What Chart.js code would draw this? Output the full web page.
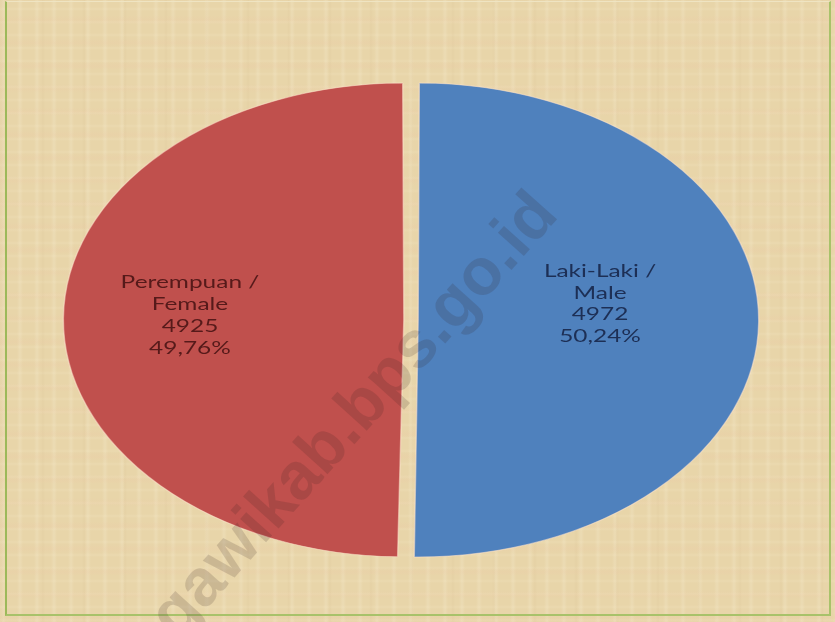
<!DOCTYPE html>
<html>
<head>
<meta charset="utf-8">
<script src="https://cdn.jsdelivr.net/npm/chart.js@4.4.1/dist/chart.umd.min.js"></script>
<style>
  html, body { margin: 0; padding: 0; }
  body { width: 835px; height: 622px; overflow: hidden; }
  .frame {
    position: relative;
    width: 835px;
    height: 622px;
    background-color: #e8d5a9;
    background-image:
      repeating-linear-gradient(0deg, rgba(238,196,164,0) 0px, rgba(238,196,164,0.16) 4px, rgba(238,196,164,0) 9px, rgba(238,196,164,0) 23px),
      repeating-linear-gradient(90deg, rgba(255,248,228,0) 0px, rgba(255,248,228,0.18) 3px, rgba(255,248,228,0) 6px, rgba(255,248,228,0) 17px),
      repeating-linear-gradient(90deg, rgba(190,160,112,0) 0px, rgba(190,160,112,0.07) 2px, rgba(190,160,112,0) 4px, rgba(190,160,112,0) 41px),
      repeating-linear-gradient(0deg, rgba(255,246,220,0) 0px, rgba(255,246,220,0.12) 2px, rgba(255,246,220,0) 4px, rgba(255,246,220,0) 13px);
  }
  .edge {
    position: absolute;
    left: 5px; top: 1px;
    width: 822px; height: 612px;
    border-left: 2px solid #9cb95a;
    border-right: 2px solid #a8c26a;
    border-bottom: 2px solid #a8c26a;
    border-top: 1px solid #efe4c2;
  }
  canvas { position: absolute; left: 0; top: 0; }
</style>
</head>
<body>
<div class="frame">
  <div class="edge"></div>
  <canvas id="pieChart" width="835" height="622"></canvas>
</div>
<script>
// Data
const categories = ['Laki-Laki / Male', 'Perempuan / Female'];
const labelLines = [['Laki-Laki /', 'Male'], ['Perempuan /', 'Female']];
const counts = [4972, 4925];
const sliceColors = ['#4f81bd', '#c0504d'];
const textColors = ['#1d2f55', '#561a1a'];
// where each label block sits, in units of the radius from the pie centre
const labelSpots = [[0.567, -0.069], [-0.663, -0.019]];

// the source picture is a round pie stretched sideways
const stretchX = 1.437;
const watermark = 'ngawikab.bps.go.id';

const total = counts.reduce((a, b) => a + b, 0);
const percentText = v => (v / total * 100).toFixed(2).replace('.', ',') + '%';

const ellipsePie = {
    id: 'ellipsePie',
    beforeDatasetsDraw(chart) {
        const arc = chart.getDatasetMeta(0).data[0];
        const ctx = chart.ctx;
        ctx.save();
        ctx.translate(arc.x, arc.y);
        ctx.scale(stretchX, 1);
        ctx.translate(-arc.x, -arc.y);
    },
    afterDatasetsDraw(chart) {
        const ctx = chart.ctx;
        const meta = chart.getDatasetMeta(0);
        meta.data.forEach((arc, i) => {
            const lines = labelLines[i].concat([String(counts[i]), percentText(counts[i])]);
            const x = arc.x + labelSpots[i][0] * arc.outerRadius;
            const y = arc.y + labelSpots[i][1] * arc.outerRadius;
            ctx.font = '17px Lato, "Open Sans", sans-serif';
            ctx.fillStyle = textColors[i];
            ctx.textAlign = 'center';
            ctx.textBaseline = 'middle';
            lines.forEach((t, k) => ctx.fillText(t, x, y + (k - 1.5) * 21.8));
        });
        ctx.restore();
    },
    afterDraw(chart) {
        const ctx = chart.ctx;
        ctx.save();
        ctx.translate(560, 216);
        ctx.rotate(-48 * Math.PI / 180);
        ctx.font = 'bold 66px "Liberation Sans", Arial, sans-serif';
        ctx.textAlign = 'right';
        ctx.textBaseline = 'alphabetic';
        ctx.fillStyle = 'rgba(50, 30, 30, 0.16)';
        ctx.fillText(watermark, 0, 0);
        ctx.restore();
    }
};

new Chart(document.getElementById('pieChart'), {
    type: 'pie',
    data: {
        labels: categories,
        datasets: [{
            data: counts,
            backgroundColor: sliceColors,
            borderColor: 'rgba(255, 228, 205, 0.55)',
            borderWidth: 1,
            offset: 20,
            hoverOffset: 0,
            clip: false
        }]
    },
    options: {
        responsive: false,
        animation: false,
        radius: 232,
        layout: { padding: { left: 0, right: 13, top: 18, bottom: 0 } },
        events: [],
        plugins: {
            legend: { display: false },
            tooltip: { enabled: false }
        }
    },
    plugins: [ellipsePie]
});
</script>
</body>
</html>
